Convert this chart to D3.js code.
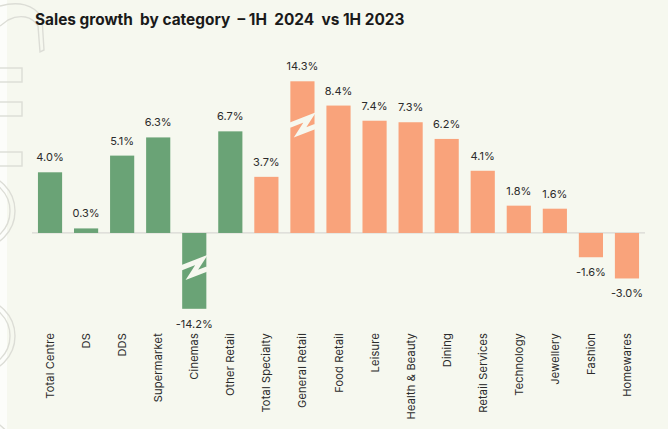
<!DOCTYPE html>
<html>
<head>
<meta charset="utf-8">
<script src="https://cdn.jsdelivr.net/npm/d3@7"></script>
<style>
  body { margin: 0; background: #f6f8ef; }
  svg { display: block; }
  text { font-family: Inter, "Open Sans", sans-serif; fill: #2b2b2b; }
  .title { font-size: 15.4px; font-weight: 700; fill: #1a1a1a; white-space: pre; }
  .value { font-size: 11px; }
  .cat { font-size: 11px; letter-spacing: 0.2px; }
</style>
</head>
<body>
<svg width="668" height="429"></svg>
<script>
//chart data
var title = "Sales growth  by category  \u2013 1H  2024  vs 1H 2023";

var categories = ["Total Centre", "DS", "DDS", "Supermarket", "Cinemas", "Other Retail",
    "Total Specialty", "General Retail", "Food Retail", "Leisure", "Health & Beauty",
    "Dining", "Retail Services", "Technology", "Jewellery", "Fashion", "Homewares"];

var growth = [4.0, 0.3, 5.1, 6.3, -14.2, 6.7, 3.7, 14.3, 8.4, 7.4, 7.3, 6.2, 4.1, 1.8, 1.6, -1.6, -3.0];

var groups = ["centre", "centre", "centre", "centre", "centre", "centre",
    "specialty", "specialty", "specialty", "specialty", "specialty", "specialty",
    "specialty", "specialty", "specialty", "specialty", "specialty"];

//colors
var colors = {
    "centre": "#6aa376",
    "specialty": "#f9a37b"
};

var svg = d3.select("svg"),
    width = +svg.attr("width"),
    height = +svg.attr("height");

//background + faint watermark on the left
svg.append("rect").attr("width", width).attr("height", height).attr("fill", "#f6f8ef");
svg.append("rect").attr("width", 7).attr("height", height).attr("fill", "#fcfdfa");

var gMark = svg.append("g")
    .attr("fill", "none")
    .attr("stroke", "#dcddd6")
    .attr("stroke-width", 1.4);
gMark.append("path").attr("d", "M0,6 C18,1 34,4 42,18 L44,50 L40,52 L38,26 C32,16 20,14 8,20 L0,26");
[68, 102, 152].forEach(function (y) {
    gMark.append("rect").attr("x", -4).attr("y", y).attr("width", 26).attr("height", 14);
});
[211, 336, 455].forEach(function (cy) {
    gMark.append("circle").attr("cx", -22).attr("cy", cy).attr("r", 37);
    gMark.append("circle").attr("cx", -22).attr("cy", cy).attr("r", 32);
});

//title
svg.append("text")
    .attr("class", "title")
    .attr("x", 35)
    .attr("y", 25)
    .text(title);

//scales
var x = d3.scaleBand()
    .domain(categories)
    .range([32, 645])
    .paddingInner(0.33)
    .paddingOuter(0.165);

//values beyond the domain are drawn as broken bars
var y = d3.scaleLinear()
    .domain([-5, 10])
    .range([308.8, 81.3])
    .clamp(true);

var data = categories.map(function (c, i) {
    return { name: c, value: growth[i], group: groups[i] };
});

var gRoot = svg.append("g");

//zero line
gRoot.append("line")
    .attr("x1", x.range()[0])
    .attr("x2", x.range()[1])
    .attr("y1", y(0))
    .attr("y2", y(0))
    .attr("stroke", "#d8d8d4")
    .attr("stroke-width", 1.2);

//bars
gRoot.selectAll("rect.bar")
    .data(data)
    .enter().append("rect")
    .attr("class", "bar")
    .attr("x", d => x(d.name))
    .attr("width", x.bandwidth())
    .attr("y", d => Math.min(y(d.value), y(0)))
    .attr("height", d => Math.abs(y(d.value) - y(0)))
    .attr("fill", d => colors[d.group]);

//break marks on bars that run off the scale
var lo = y.domain()[0], hi = y.domain()[1];
var broken = data.filter(d => d.value < lo || d.value > hi);
gRoot.selectAll("polyline.break")
    .data(broken)
    .enter().append("polyline")
    .attr("class", "break")
    .attr("points", function (d) {
        var x0 = x(d.name), w = x.bandwidth();
        var c = d.value > 0 ? y(d.value) + 46 : y(d.value) - 39;
        return [[x0 - 1, c - 2], [x0 + 0.8 * w, c - 10], [x0 + 0.4 * w, c + 5], [x0 + w + 1, c - 1]].join(" ");
    })
    .attr("fill", "none")
    .attr("stroke", "#f6f8ef")
    .attr("stroke-width", 5)
    .attr("stroke-linejoin", "miter");

//value labels
gRoot.selectAll("text.value")
    .data(data)
    .enter().append("text")
    .attr("class", "value")
    .attr("text-anchor", "middle")
    .attr("x", d => x(d.name) + x.bandwidth() / 2)
    .attr("y", d => d.value >= 0 ? y(d.value) - 11 : y(d.value) + 19)
    .text(d => d.value.toFixed(1) + "%");

//category labels
gRoot.selectAll("text.cat")
    .data(data)
    .enter().append("text")
    .attr("class", "cat")
    .attr("text-anchor", "end")
    .attr("transform", d => "translate(" + [x(d.name) + x.bandwidth() / 2 + 4, 333] + ") rotate(-90)")
    .text(d => d.name);
</script>
</body>
</html>
